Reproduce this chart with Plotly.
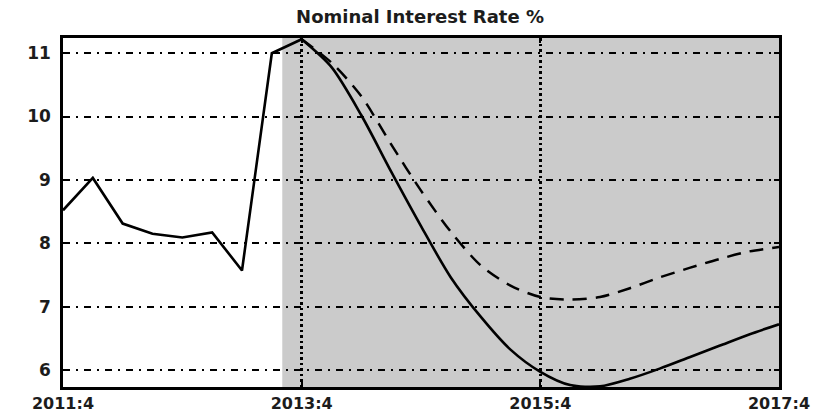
import plotly.graph_objects as go

# Quarterly labels 2011:4 .. 2017:4
quarters = []
for yr in range(2011, 2018):
    for q in range(1, 5):
        if (2011, 4) <= (yr, q) <= (2017, 4):
            quarters.append(f"{yr}:{q}")

# Observed history up to 2013:4
history = [8.52, 9.03, 8.31, 8.15, 8.09, 8.17, 7.57, 11.00, 11.22]

# Baseline projection from 2013:4 onward (solid)
baseline = [11.22, 10.78, 10.02, 9.13, 8.27, 7.46, 6.84, 6.32, 5.97,
            5.76, 5.74, 5.86, 6.02, 6.20, 6.38, 6.56, 6.72]

# Alternative scenario from 2013:4 onward (dashed)
alternative = [11.22, 10.85, 10.32, 9.56, 8.83, 8.18, 7.65, 7.33, 7.15,
               7.11, 7.15, 7.29, 7.46, 7.61, 7.75, 7.87, 7.94]

tick_labels = ["2011:4", "2013:4", "2015:4", "2017:4"]
y_ticks = [6, 7, 8, 9, 10, 11]

forecast_start = 7.35  # start of the shaded forecast window (category index)

font_family = "DejaVu Sans"
text_color = "#1c1c1c"

hist_x = quarters[:len(history)]
proj_x = quarters[len(history) - 1:]

fig = go.Figure()

fig.add_trace(go.Scatter(
    x=proj_x, y=alternative, mode="lines",
    line=dict(color="black", width=2.5, dash="14px,9px", shape="spline", smoothing=0.8),
    hoverinfo="skip", showlegend=False,
))
fig.add_trace(go.Scatter(
    x=proj_x, y=baseline, mode="lines",
    line=dict(color="black", width=2.6, shape="spline", smoothing=0.8),
    hoverinfo="skip", showlegend=False,
))
fig.add_trace(go.Scatter(
    x=hist_x, y=history, mode="lines",
    line=dict(color="black", width=2.6),
    hoverinfo="skip", showlegend=False,
))

fig.add_shape(
    type="rect", xref="x", yref="paper",
    x0=forecast_start, x1=len(quarters) - 1, y0=0, y1=1,
    fillcolor="#cbcbcb", line=dict(width=0), layer="below",
)

fig.update_layout(
    width=840, height=413,
    margin=dict(l=63, r=61, t=38, b=26, autoexpand=False),
    paper_bgcolor="white", plot_bgcolor="white",
    title=dict(
        text="Nominal Interest Rate %",
        x=0.5, xanchor="center", y=1 - 17 / 413, yanchor="middle",
        yref="container",
        font=dict(family=font_family, size=18, color=text_color, weight="bold"),
    ),
    showlegend=False,
)

fig.update_xaxes(
    type="category", categoryorder="array", categoryarray=quarters,
    range=[0, len(quarters) - 1],
    automargin=False,
    tickmode="array", tickvals=tick_labels, ticktext=tick_labels,
    ticks="inside", ticklen=5, tickwidth=2, tickcolor="black",
    showline=True, linecolor="black", linewidth=2.5, mirror="ticks",
    showgrid=True, gridcolor="black", gridwidth=2.5, griddash="2.5px,3px",
    zeroline=False,
    ticklabelstandoff=0,
    tickfont=dict(family=font_family, size=16, color=text_color, weight="bold"),
)

fig.update_yaxes(
    range=[5.73, 11.24],
    automargin=False,
    tickmode="array", tickvals=y_ticks, ticktext=[str(v) for v in y_ticks],
    ticks="inside", ticklen=5, tickwidth=2, tickcolor="black",
    showline=True, linecolor="black", linewidth=2.5, mirror="ticks",
    showgrid=True, gridcolor="black", gridwidth=1.5, griddash="7px,6px,2px,6px",
    zeroline=False,
    ticklabelstandoff=6,
    tickfont=dict(family=font_family, size=17, color=text_color, weight="bold"),
)

fig.write_html("out.html")
